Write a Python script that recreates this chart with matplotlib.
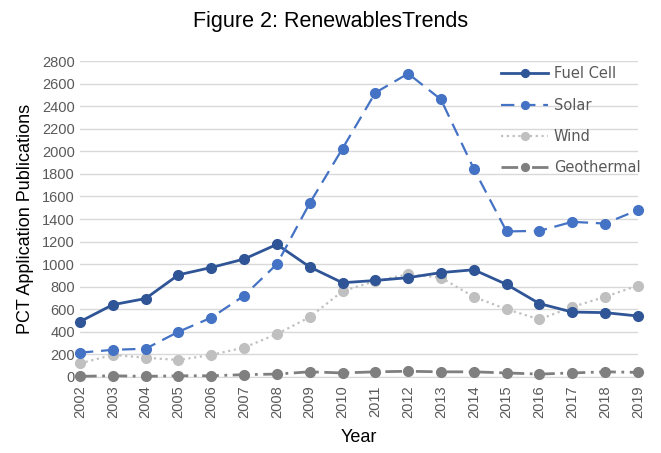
import matplotlib.pyplot as plt
from matplotlib import font_manager

years = list(range(2002, 2020))
fuel_cell = [490, 640, 695, 905, 970, 1045, 1175, 975, 835, 855, 880, 925, 950, 820, 650, 575, 570, 540]
solar = [215, 240, 250, 400, 525, 720, 1000, 1540, 2025, 2520, 2690, 2460, 1845, 1290, 1295, 1375, 1360, 1480]
wind = [120, 195, 170, 150, 195, 260, 380, 530, 760, 850, 910, 880, 710, 600, 510, 620, 710, 810]
geothermal = [5, 10, 5, 10, 10, 20, 25, 45, 35, 45, 50, 45, 45, 35, 25, 35, 45, 40]

names = {f.name for f in font_manager.fontManager.ttflist}
narrow = 'Liberation Sans Narrow' if 'Liberation Sans Narrow' in names else 'Liberation Sans'

fig = plt.figure(figsize=(6.61, 4.53), dpi=100)
ax = fig.add_axes([0.121, 0.168, 0.844, 0.697])

ax.plot(years, fuel_cell, color='#2F5597', lw=2, marker='o', ms=7, label='Fuel Cell', clip_on=False, zorder=4)
ax.plot(years, solar, color='#4472C4', lw=1.6, ls=(0, (6, 3.5)), marker='o', ms=7, label='Solar', clip_on=False, zorder=4)
ax.plot(years, wind, color='#C0C0C0', lw=1.6, ls=(0, (1, 1.6)), marker='o', ms=7, label='Wind', clip_on=False, zorder=3)
ax.plot(years, geothermal, color='#7F7F7F', lw=2, ls=(0, (6, 2, 1, 2)), marker='o', ms=7, label='Geothermal', clip_on=False, zorder=3)

ax.set_xlim(2002, 2019)
ax.set_ylim(0, 2800)
ax.set_yticks(range(0, 2801, 200))
ax.set_xticks(years)
ax.set_xticklabels([str(y) for y in years], rotation=90)
ax.grid(axis='y', color='#D9D9D9', lw=1)
ax.set_axisbelow(True)
for s in ['top', 'right', 'left']:
    ax.spines[s].set_visible(False)
ax.spines['bottom'].set_color('#D9D9D9')
ax.tick_params(axis='both', length=0, labelsize=10.5, labelcolor='#595959')
ax.tick_params(axis='x', pad=6)
for lab in ax.get_xticklabels() + ax.get_yticklabels():
    lab.set_fontfamily(narrow)

ax.set_xlabel('Year', fontsize=13, family=narrow, labelpad=8)
ax.set_ylabel('PCT Application Publications', fontsize=13, family=narrow, labelpad=6)
fig.suptitle('Figure 2: RenewablesTrends', fontsize=15.5, family=narrow, y=0.975)

leg = ax.legend(loc='upper right', bbox_to_anchor=(1.028, 1.025), frameon=False, fontsize=10.5,
                labelspacing=1.12, handlelength=3.2, handletextpad=0.4, labelcolor='#595959',
                markerscale=0.8)

plt.savefig('out.png', dpi=100)
